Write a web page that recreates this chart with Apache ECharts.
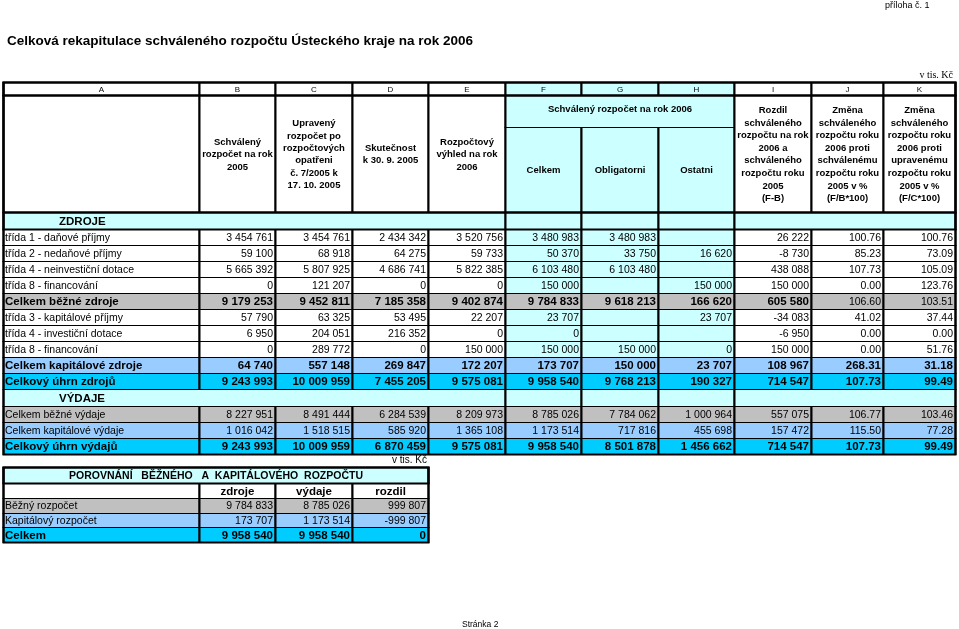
<!DOCTYPE html>
<html><head><meta charset="utf-8">
<script src="https://cdn.jsdelivr.net/npm/echarts@6/dist/echarts.min.js"></script>
<style>html,body{margin:0;padding:0;background:#fff}#c{width:959px;height:629px}</style>
</head><body><div id="c"></div>
<script>
// ---------- DATA ----------
const colLetters = ['A','B','C','D','E','F','G','H','I','J','K'];
const rowLabels = [
  'třída 1 - daňové příjmy','třída 2 - nedaňové příjmy','třída 4 - neinvestiční dotace','třída 8 - financování',
  'Celkem běžné zdroje','třída 3 - kapitálové příjmy','třída 4 - investiční dotace','třída 8 - financování',
  'Celkem kapitálové zdroje','Celkový úhrn zdrojů',
  'Celkem běžné výdaje','Celkem kapitálové výdaje','Celkový úhrn výdajů'
];
const schvaleny2005   = [3454761, 59100, 5665392, 0, 9179253, 57790, 6950, 0, 64740, 9243993, 8227951, 1016042, 9243993];
const upraveny2005    = [3454761, 68918, 5807925, 121207, 9452811, 63325, 204051, 289772, 557148, 10009959, 8491444, 1518515, 10009959];
const skutecnost2005  = [2434342, 64275, 4686741, 0, 7185358, 53495, 216352, 0, 269847, 7455205, 6284539, 585920, 6870459];
const vyhled2006      = [3520756, 59733, 5822385, 0, 9402874, 22207, 0, 150000, 172207, 9575081, 8209973, 1365108, 9575081];
const celkem2006      = [3480983, 50370, 6103480, 150000, 9784833, 23707, 0, 150000, 173707, 9958540, 8785026, 1173514, 9958540];
const obligatorni2006 = [3480983, 33750, 6103480, null, 9618213, null, null, 150000, 150000, 9768213, 7784062, 717816, 8501878];
const ostatni2006     = [null, 16620, null, 150000, 166620, 23707, null, 0, 23707, 190327, 1000964, 455698, 1456662];
const rozdilFB        = [26222, -8730, 438088, 150000, 605580, -34083, -6950, 150000, 108967, 714547, 557075, 157472, 714547];
const zmenaFB         = [100.76, 85.23, 107.73, 0.00, 106.60, 41.02, 0.00, 0.00, 268.31, 107.73, 106.77, 115.50, 107.73];
const zmenaFC         = [100.76, 73.09, 105.09, 123.76, 103.51, 37.44, 0.00, 51.76, 31.18, 99.49, 103.46, 77.28, 99.49];

const headerTexts = [
  '',
  'Schválený\nrozpočet na rok\n2005',
  'Upravený\nrozpočet po\nrozpočtových\nopatřeni\nč. 7/2005 k\n17. 10. 2005',
  'Skutečnost\nk 30. 9. 2005',
  'Rozpočtový\nvýhled na rok\n2006'
];
const groupHeader = 'Schválený rozpočet na rok 2006';
const subHeaders = ['Celkem','Obligatorni','Ostatni'];
const rightHeaders = [
  'Rozdil\nschváleného\nrozpočtu na rok\n2006 a\nschváleného\nrozpočtu roku\n2005\n(F-B)',
  'Změna\nschváleného\nrozpočtu roku\n2006 proti\nschválenému\nrozpočtu roku\n2005 v %\n(F/B*100)',
  'Změna\nschváleného\nrozpočtu roku\n2006 proti\nupravenému\nrozpočtu roku\n2005 v %\n(F/C*100)'
];
const sectionLabels = ['ZDROJE','VÝDAJE'];

const cmpTitle = 'POROVNÁNÍ   BĚŽNÉHO   A  KAPITÁLOVÉHO  ROZPOČTU';
const cmpHeaders = ['zdroje','výdaje','rozdil'];
const cmpLabels = ['Běžný rozpočet','Kapitálový rozpočet','Celkem'];
const cmpZdroje = [9784833, 173707, 9958540];
const cmpVydaje = [8785026, 1173514, 9958540];
const cmpRozdil = [999807, -999807, 0];

// ---------- LAYOUT / STYLE ----------
const FONT = 'Arial, "Liberation Sans", sans-serif';
const C_LC = '#CCFFFF', C_GR = '#C0C0C0', C_LB = '#99CCFF', C_CY = '#00CCFF';
const colW = [196,76,77,76,77,76,77,76,77,72,72];
const rowH = [13,32,85,17,16,16,16,16,16,16,16,16,16,16,17,16,16,16];
const rowKind = ['n','n','n','n','g','n','n','n','b','c','g','b','c'];
const boldRow = [0,0,0,0,1,0,0,0,1,1,0,0,1];
const colW2 = [196,76,77,76];
const rowH2 = [16,15,15,14,15];
const F_REG = '10.5px ' + FONT, F_BOLD = 'bold 11.5px ' + FONT, F_HEAD = 'bold 9.5px ' + FONT;

function edges(a){const e=[0];a.forEach(v=>e.push(e[e.length-1]+v));return e;}
const xe = edges(colW), ye = edges(rowH), xe2 = edges(colW2), ye2 = edges(rowH2);

function fmtInt(n){
  if(n===null||n===undefined) return '';
  const s = Math.abs(n).toString().replace(/\B(?=(\d{3})+(?!\d))/g,' ');
  return (n<0?'-':'')+s;
}
function fmtPct(n){return (n===null||n===undefined)?'':n.toFixed(2);}

const valueCols = [schvaleny2005, upraveny2005, skutecnost2005, vyhled2006, celkem2006, obligatorni2006, ostatni2006, rozdilFB, zmenaFB, zmenaFC];

// ---------- build cells ----------
const cells1 = [];
function add(list, xs, ys, c0, c1, r0, r1, o){
  list.push(Object.assign({value:[xs[c0], ys[r0], xs[c1+1], ys[r1+1]]}, o));
}
colLetters.forEach((L,i)=>add(cells1, xe, ye, i,i,0,0,{text:L, align:'center', font:'8px '+FONT, fill:(i>=5&&i<=7)?C_LC:'#fff'}));
headerTexts.forEach((t,i)=>add(cells1, xe, ye, i,i,1,2,{text:t, align:'center', font:F_HEAD, fill:'#fff', lh:12.4}));
add(cells1, xe, ye, 5,7,1,1,{text:groupHeader, align:'center', font:F_HEAD, fill:C_LC, dy:-3});
subHeaders.forEach((t,i)=>add(cells1, xe, ye, 5+i,5+i,2,2,{text:t, align:'center', font:F_HEAD, fill:C_LC}));
rightHeaders.forEach((t,i)=>add(cells1, xe, ye, 8+i,8+i,1,2,{text:t, align:'center', font:F_HEAD, fill:'#fff', lh:12.6}));
function sectionRow(r, label){
  add(cells1, xe, ye, 0,4,r,r,{text:label, align:'left', pad:55, font:'bold 11.5px '+FONT, fill:C_LC});
  for(let c=5;c<=7;c++) add(cells1, xe, ye, c,c,r,r,{text:'', fill:C_LC});
  add(cells1, xe, ye, 8,10,r,r,{text:'', fill:C_LC});
}
sectionRow(3, sectionLabels[0]);
sectionRow(14, sectionLabels[1]);
rowLabels.forEach((lab,i)=>{
  const r = i<10 ? 4+i : 15+(i-10);
  const k = rowKind[i];
  const b = boldRow[i];
  const base = k==='g'?C_GR:k==='b'?C_LB:k==='c'?C_CY:null;
  add(cells1, xe, ye, 0,0,r,r,{text:lab, align:'left', pad:1, font:b?F_BOLD:F_REG, fill:base||'#fff'});
  valueCols.forEach((arr,j)=>{
    const c = j+1;
    const isPct = j>=8;
    const txt = isPct?fmtPct(arr[i]):fmtInt(arr[i]);
    const fill = base || ((c>=5&&c<=7)?C_LC:'#fff');
    let bb = b;
    if(i===4 && isPct) bb = 0;
    add(cells1, xe, ye, c,c,r,r,{text:txt, align:'right', pad:2, font:bb?F_BOLD:F_REG, fill:fill});
  });
});
const frames1 = [
  {value:[xe[0],ye[0],xe[11],ye[1]]},
  {value:[xe[0],ye[1],xe[11],ye[3]]},
  {value:[xe[0],ye[3],xe[11],ye[4]]},
  {value:[xe[0],ye[0],xe[11],ye[18]]}
];

const cells2 = [];
add(cells2, xe2, ye2, 0,3,0,0,{text:cmpTitle, align:'center', font:'bold 10.5px '+FONT, fill:C_LC});
add(cells2, xe2, ye2, 0,0,1,1,{text:'', fill:'#fff'});
cmpHeaders.forEach((t,i)=>add(cells2, xe2, ye2, i+1,i+1,1,1,{text:t, align:'center', font:'bold 11.5px '+FONT, fill:'#fff'}));
const cmpFill = [C_GR, C_LB, C_CY];
const cmpBold = [0,0,1];
cmpLabels.forEach((lab,i)=>{
  const r = 2+i, f = cmpBold[i]?F_BOLD:F_REG;
  add(cells2, xe2, ye2, 0,0,r,r,{text:lab, align:'left', pad:1, font:f, fill:cmpFill[i]});
  [cmpZdroje, cmpVydaje, cmpRozdil].forEach((arr,j)=>add(cells2, xe2, ye2, j+1,j+1,r,r,{text:fmtInt(arr[i]), align:'right', pad:2, font:f, fill:cmpFill[i]}));
});
const frames2 = [{value:[xe2[0],ye2[0],xe2[4],ye2[5]]},{value:[xe2[0],ye2[0],xe2[4],ye2[1]]}];

function cellRenderer(list){
  return function(params, api){
    const c = list[params.dataIndex];
    const p0 = api.coord([api.value(0), api.value(1)]);
    const p1 = api.coord([api.value(2), api.value(3)]);
    const X0 = Math.round(p0[0]), Y0 = Math.round(p0[1]), X1 = Math.round(p1[0]), Y1 = Math.round(p1[1]);
    const ch = [
      {type:'rect', shape:{x:X0,y:Y0,width:X1-X0,height:Y1-Y0}, style:{fill:c.fill}},
      {type:'line', shape:{x1:X0,y1:Y0+0.5,x2:X1,y2:Y0+0.5}, style:{stroke:'#000', lineWidth:1}},
      {type:'line', shape:{x1:X0,y1:Y1+0.5,x2:X1,y2:Y1+0.5}, style:{stroke:'#000', lineWidth:1}},
      {type:'line', shape:{x1:X0+0.5,y1:Y0,x2:X0+0.5,y2:Y1+1}, style:{stroke:'#000', lineWidth:2}},
      {type:'line', shape:{x1:X1+0.5,y1:Y0,x2:X1+0.5,y2:Y1+1}, style:{stroke:'#000', lineWidth:2}}
    ];
    if(c.text){
      let tx = c.align==='left' ? X0+1+(c.pad||2) : c.align==='right' ? X1-(c.pad||2) : (X0+X1)/2+0.5;
      ch.push({type:'text', style:{text:c.text, x:tx, y:(Y0+Y1)/2+1+(c.dy||0), align:c.align, verticalAlign:'middle', font:c.font, fill:'#000', lineHeight:c.lh||undefined}});
    }
    return {type:'group', children:ch};
  };
}
function frameRenderer(params, api){
  const p0 = api.coord([api.value(0), api.value(1)]);
  const p1 = api.coord([api.value(2), api.value(3)]);
  return {type:'rect', shape:{x:Math.round(p0[0])+0.5,y:Math.round(p0[1])+0.5,width:Math.round(p1[0]-p0[0]),height:Math.round(p1[1]-p0[1])}, style:{fill:null, stroke:'#000', lineWidth:2}};
}

const chart = echarts.init(document.getElementById('c'), null, {renderer:'canvas'});
chart.setOption({
  animation:false,
  backgroundColor:'#fff',
  title:[
    {text:'Celková rekapitulace schváleného rozpočtu Ústeckého kraje na rok 2006', left:7, top:34, padding:0, textStyle:{fontFamily:FONT, fontSize:13.5, fontWeight:'bold', color:'#000'}},
    {text:'příloha č. 1', left:885, top:1, padding:0, textStyle:{fontFamily:FONT, fontSize:9, fontWeight:'normal', color:'#000'}},
    {text:'v tis. Kč', right:6, top:70, padding:0, textStyle:{fontFamily:'"Liberation Serif", "Times New Roman", serif', fontSize:10, fontWeight:'normal', color:'#000'}},
    {text:'v tis. Kč', left:392, top:455, padding:0, textStyle:{fontFamily:FONT, fontSize:10, fontWeight:'normal', color:'#000'}},
    {text:'Stránka 2', left:462, top:620, padding:0, textStyle:{fontFamily:FONT, fontSize:8.5, fontWeight:'normal', color:'#000'}}
  ],
  grid:[
    {left:3, top:82, width:xe[11], height:ye[18]},
    {left:3, top:467, width:xe2[4], height:ye2[5]}
  ],
  xAxis:[
    {type:'value', gridIndex:0, min:0, max:xe[11], show:false},
    {type:'value', gridIndex:1, min:0, max:xe2[4], show:false}
  ],
  yAxis:[
    {type:'value', gridIndex:0, min:0, max:ye[18], inverse:true, show:false},
    {type:'value', gridIndex:1, min:0, max:ye2[5], inverse:true, show:false}
  ],
  series:[
    {type:'custom', xAxisIndex:0, yAxisIndex:0, renderItem:cellRenderer(cells1), data:cells1.map(c=>c.value), encode:{x:[0,2], y:[1,3]}, silent:true, clip:false},
    {type:'custom', xAxisIndex:0, yAxisIndex:0, renderItem:frameRenderer, data:frames1.map(c=>c.value), encode:{x:[0,2], y:[1,3]}, silent:true, clip:false},
    {type:'custom', xAxisIndex:1, yAxisIndex:1, renderItem:cellRenderer(cells2), data:cells2.map(c=>c.value), encode:{x:[0,2], y:[1,3]}, silent:true, clip:false},
    {type:'custom', xAxisIndex:1, yAxisIndex:1, renderItem:frameRenderer, data:frames2.map(c=>c.value), encode:{x:[0,2], y:[1,3]}, silent:true, clip:false}
  ]
});
</script></body></html>
